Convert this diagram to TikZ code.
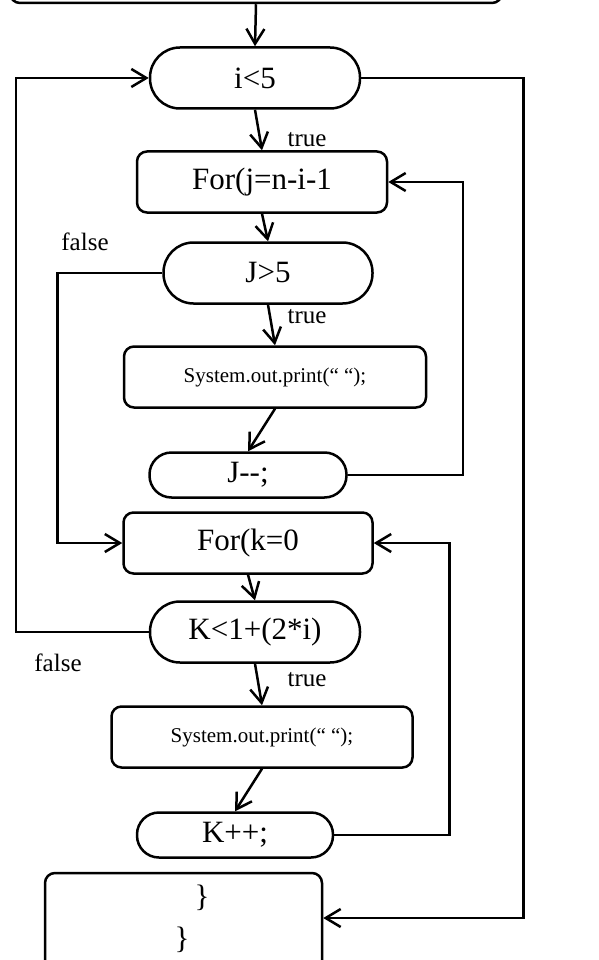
\documentclass[tikz,border=0pt]{standalone}
\usepackage{fontspec}
\setmainfont{Liberation Serif}
\usetikzlibrary{arrows.meta,positioning}

\begin{document}
\begin{tikzpicture}[x=1pt,y=-1pt,line width=2.5pt,
  >={Straight Barb[length=15pt,width=18pt]},
  every node/.style={inner sep=0pt},
  box/.style={draw, rounded corners=10pt, minimum height=61pt},
  pill/.style={draw, rounded corners=30pt, minimum height=61pt},
  short pill/.style={draw, rounded corners=22pt, minimum height=45pt},
  big/.style={font=\fontsize{31}{36}\selectfont},
  small/.style={font=\fontsize{21}{25}\selectfont},
  lbl/.style={font=\fontsize{25}{29}\selectfont}]
\useasboundingbox (0,0) rectangle (598,960);
\node[box, minimum width=492pt, minimum height=70pt] (start) at (256,-32) {};
\node[pill, big, minimum width=210pt] (outer) at (255,78) {i<5};
\node[box, big, minimum width=250pt] (forj) at (262,182) {For(j=n-i-1};
\node[pill, big, minimum width=209pt] (testj) at (268,273) {J>5};
\node[box, small, minimum width=302pt] (printj) at (275,377) {System.out.print(“ “);};
\node[short pill, big, minimum width=197pt] (decj) at (248,475) {J-{}-;};
\node[box, big, minimum width=249pt] (fork) at (248,543) {For(k=0};
\node[pill, big, minimum width=210pt] (testk) at (255,632) {K<1+(2*i)};
\node[box, small, minimum width=301pt] (printk) at (262,737) {System.out.print(“ “);};
\node[short pill, big, minimum width=196pt] (inck) at (235,835) {K++;};
\node[box, minimum width=277pt, minimum height=100pt] (stop) at (183.5,923) {};
\node[big] (close1) at (202,898) {\}};
\node[big] (close2) at (182,940) {\}};

% labels
\node[lbl] (t1) at (307,140) {true};
\node[lbl] (t2) at (307,317) {true};
\node[lbl] (t3) at (307,680) {true};
\node[lbl] (f1) at (85,242) {false};
\node[lbl] (f2) at (58,663) {false};

% flow
\draw[->] (start.south) -- (outer.north);
\draw[->] (outer.south) -- (forj.north);
\draw[->] (forj.south) -- (testj.north);
\draw[->] (testj.south) -- (printj.north);
\draw[->] (printj.south) -- (decj.north);
\draw[->] (decj.east) -- ++(115,0) |- (forj.east);
\draw[->] (testj.west) -- ++(-105,0) |- (fork.west);
\draw[->] (fork.south) -- (testk.north);
\draw[->] (testk.south) -- (printk.north);
\draw[->] (printk.south) -- (inck.north);
\draw[->] (inck.east) -- ++(115,0) |- (fork.east);
\draw[->] (testk.west) -- ++(-133,0) |- (outer.west);
\draw[->] (outer.east) -- ++(162,0) |- ([yshift=5pt]stop.east);
\end{tikzpicture}
\end{document}
